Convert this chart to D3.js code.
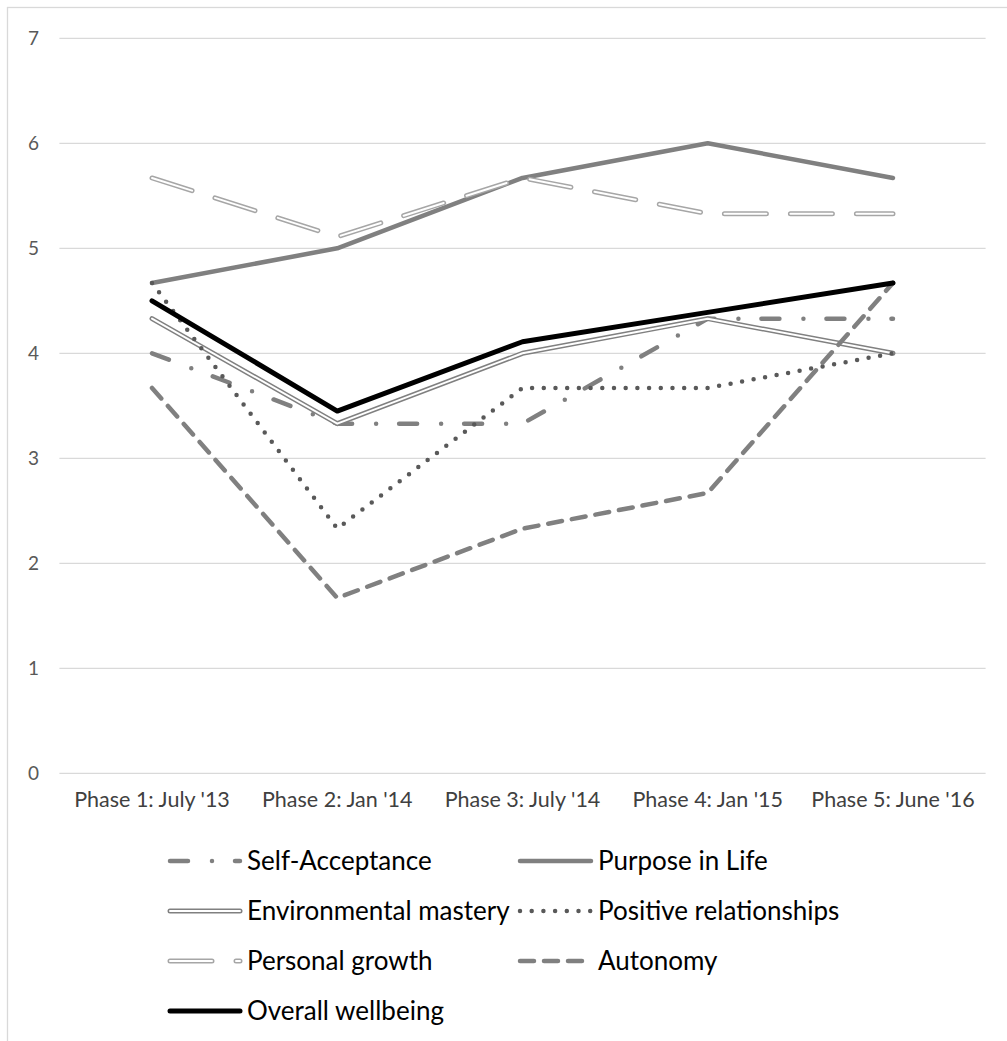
<!DOCTYPE html>
<html><head><meta charset="utf-8">
<script src="https://cdn.jsdelivr.net/npm/d3@7/dist/d3.min.js"></script>
<style>html,body{margin:0;padding:0;background:#fff;}svg{display:block;}</style>
</head><body>
<script>
const categories = ["Phase 1: July '13","Phase 2: Jan '14","Phase 3: July '14","Phase 4: Jan '15","Phase 5: June '16"];
const yTicks = [0,1,2,3,4,5,6,7];
const selfAcceptance = [4, 3.33, 3.33, 4.33, 4.33];
const purposeInLife = [4.67, 5, 5.67, 6, 5.67];
const environmentalMastery = [4.33, 3.33, 4, 4.33, 4];
const positiveRelationships = [4.67, 2.33, 3.67, 3.67, 4];
const personalGrowth = [5.67, 5.11, 5.67, 5.33, 5.33];
const autonomy = [3.67, 1.67, 2.33, 2.67, 4.67];
const overallWellbeing = [4.5, 3.45, 4.11, 4.39, 4.67];
const seriesNames = ["Self-Acceptance","Purpose in Life","Environmental mastery","Positive relationships","Personal growth","Autonomy","Overall wellbeing"];

const W = 1007, H = 1041;
const svg = d3.select("body").append("svg").attr("width", W).attr("height", H);
svg.append("rect").attr("x",7.5).attr("y",7.5).attr("width",1100).attr("height",1100)
  .attr("fill","#fff").attr("stroke","#d9d9d9").attr("stroke-width",1.3);

const x = d3.scaleBand().domain(categories).range([59.4, 985.6]);
const y = d3.scaleLinear().domain([0,7]).range([773.3, 38.3]);
const FONT = "Lato, 'Open Sans', sans-serif";

// gridlines
svg.append("g").selectAll("line").data(yTicks).join("line")
  .attr("x1",59.4).attr("x2",985.6)
  .attr("y1",d=>y(d)).attr("y2",d=>y(d))
  .attr("stroke","#d9d9d9").attr("stroke-width",1.3);

// y axis labels
const yAxis = d3.axisLeft(y).tickValues(yTicks).tickFormat(d3.format("d")).tickSize(0).tickPadding(0);
const gy = svg.append("g").attr("transform","translate(39,0)").call(yAxis);
gy.select(".domain").remove();
gy.selectAll("text").attr("font-family",FONT).attr("font-size",19).attr("fill","#595959");

// x axis labels
const xAxis = d3.axisBottom(x).tickSize(0).tickPadding(0);
const gx = svg.append("g").attr("transform","translate(0,792)").call(xAxis);
gx.select(".domain").remove();
gx.selectAll("text").attr("font-family",FONT).attr("font-size",21.5).attr("fill","#404040");

const line = d3.line().x((d,i)=>x(categories[i]) + x.bandwidth()/2).y(d=>y(d));

// stroke layers per series
const styles = [
  [{color:"#808080", width:4.5, dash:"18,24,0,23"}],
  [{color:"#808080", width:4.5, dash:null}],
  [{color:"#808080", width:5, dash:null},{color:"#fff", width:2, dash:null}],
  [{color:"#595959", width:4.5, dash:"0,11.7"}],
  [{color:"#a6a6a6", width:5, dash:"42,24"},{color:"#fff", width:2, dash:"42,24"}],
  [{color:"#808080", width:4.5, dash:"14,10"}],
  [{color:"#000", width:5, dash:null}]
];
const data = [selfAcceptance, purposeInLife, environmentalMastery, positiveRelationships, personalGrowth, autonomy, overallWellbeing];

const gl = svg.append("g");
data.forEach((vals, si) => {
  styles[si].forEach(st => {
    gl.append("path").datum(vals).attr("d", line)
      .attr("fill","none").attr("stroke",st.color).attr("stroke-width",st.width)
      .attr("stroke-linecap","round").attr("stroke-linejoin","round")
      .attr("stroke-dasharray", st.dash);
  });
});

// legend
const legRows = [861, 911, 961, 1011];
const legCols = [{x1:170,x2:240,tx:247},{x1:520,x2:591,tx:598}];
const lg = svg.append("g");
seriesNames.forEach((name, si) => {
  const row = Math.floor(si/2), col = si%2;
  const c = legCols[col], yy = legRows[row];
  styles[si].forEach(st => {
    lg.append("line").attr("x1",c.x1).attr("x2",c.x2).attr("y1",yy).attr("y2",yy)
      .attr("stroke",st.color).attr("stroke-width",st.width)
      .attr("stroke-linecap","round").attr("stroke-dasharray",st.dash);
  });
  lg.append("text").attr("x",c.tx).attr("y",yy).attr("dy","0.35em")
    .attr("font-family",FONT).attr("font-size",26).attr("fill","#000").text(name);
});
</script>
</body></html>
